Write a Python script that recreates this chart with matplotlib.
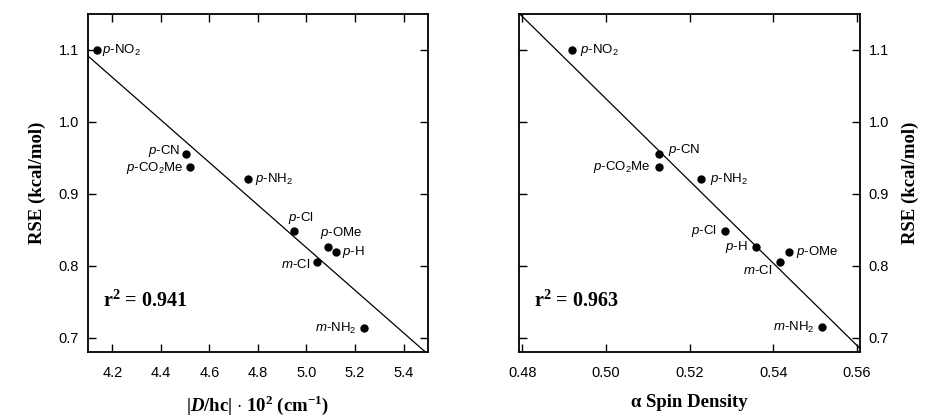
import matplotlib
matplotlib.use("Agg")
import matplotlib.pyplot as plt
import numpy as np

plt.rcParams['font.family'] = ['Liberation Sans', 'DejaVu Sans']
plt.rcParams['mathtext.fontset'] = 'custom'
plt.rcParams['mathtext.rm'] = 'Liberation Sans'
plt.rcParams['mathtext.it'] = 'Liberation Sans:italic'
plt.rcParams['mathtext.bf'] = 'Liberation Serif:bold'
plt.rcParams['mathtext.bfit'] = 'Liberation Serif:bold:italic'

# substituent labels
labels = [r'$\it{p}$-NO$_2$', r'$\it{p}$-CN', r'$\it{p}$-CO$_2$Me', r'$\it{p}$-NH$_2$',
          r'$\it{p}$-Cl', r'$\it{p}$-OMe', r'$\it{p}$-H', r'$\it{m}$-Cl', r'$\it{m}$-NH$_2$']

# left panel: |D/hc| * 10^2 vs RSE
d_hc = [4.137, 4.503, 4.522, 4.760, 4.950, 5.090, 5.122, 5.044, 5.236]
rse_left = [1.100, 0.955, 0.937, 0.920, 0.848, 0.826, 0.819, 0.805, 0.713]
fit_left = (-0.296, 2.305)  # slope, intercept
r2_left = 0.941

# right panel: alpha spin density vs RSE
spin = [0.4919, 0.5128, 0.5128, 0.5227, 0.5286, 0.5438, 0.5358, 0.5417, 0.5516]
rse_right = [1.100, 0.955, 0.937, 0.921, 0.848, 0.819, 0.826, 0.805, 0.714]
fit_right = (-5.71, 3.887)
r2_right = 0.963

# label offsets in pixels (dx, dy, ha)
offs_left = [(5, 0, 'left'), (-6, 3, 'right'), (-7, -1, 'right'), (7, 0, 'left'),
             (7, 13, 'center'), (13, 14, 'center'), (6, 0, 'left'), (-7, -2, 'right'), (-7, 0, 'right')]
offs_right = [(8, 0, 'left'), (9, 4, 'left'), (-9, 0, 'right'), (9, 0, 'left'),
              (-9, 0, 'right'), (7, 0, 'left'), (-8, 0, 'right'), (-8, -8, 'right'), (-7, 0, 'right')]

fig = plt.figure(figsize=(9.31, 4.19), dpi=100)
ax1 = fig.add_axes([0.0945, 0.160, 0.365, 0.807])
ax2 = fig.add_axes([0.5575, 0.160, 0.3663, 0.807])

serif = dict(fontsize=13.5, fontweight='bold', family='Liberation Serif')


def draw_panel(ax, xs, ys, fit, offs, xlim, r2):
    ax.plot(xs, ys, 'o', color='black', markersize=5, zorder=3)
    xx = np.array(xlim)
    ax.plot(xx, fit[0] * xx + fit[1], color='black', lw=0.9)
    for x, y, lab, (dx, dy, ha) in zip(xs, ys, labels, offs):
        ax.annotate(lab, (x, y), xytext=(dx, dy), textcoords='offset pixels',
                    ha=ha, va='center', fontsize=9.5)
    ax.set_xlim(xlim)
    ax.set_ylim(0.68, 1.15)
    ax.set_yticks([0.7, 0.8, 0.9, 1.0, 1.1])
    ax.tick_params(direction='in', length=6, width=1, top=True, right=True,
                   labelsize=10.5, pad=6.5)
    ax.tick_params(axis='x', pad=10)
    for s in ax.spines.values():
        s.set_linewidth(1.3)
    ax.text(0.045, 0.15, r'r$^{\mathbf{2}}$ = ' + f'{r2:.3f}', transform=ax.transAxes,
            fontsize=14.5, fontweight='bold', family='Liberation Serif', va='center')


draw_panel(ax1, d_hc, rse_left, fit_left, offs_left, (4.1, 5.5), r2_left)
ax1.set_xticks([4.2, 4.4, 4.6, 4.8, 5.0, 5.2, 5.4])
ax1.set_ylabel('RSE (kcal/mol)', labelpad=9, **serif)
ax1.set_xlabel(r'|$\mathbfit{D}$/hc| $\cdot$ 10$^{\mathbf{2}}$ (cm$^{\mathbf{-1}}$)', labelpad=10, **serif)

draw_panel(ax2, spin, rse_right, fit_right, offs_right, (0.4792, 0.5608), r2_right)
ax2.set_xticks([0.48, 0.50, 0.52, 0.54, 0.56])
ax2.set_xticklabels(['0.48', '0.50', '0.52', '0.54', '0.56'])
ax2.yaxis.set_label_position('right')
ax2.tick_params(axis='y', labelleft=False, labelright=True, pad=6)
ax2.set_ylabel('RSE (kcal/mol)', rotation=90, labelpad=9, **serif)
ax2.set_xlabel('α Spin Density', labelpad=10, **serif)

fig.savefig('out.png', dpi=100)
